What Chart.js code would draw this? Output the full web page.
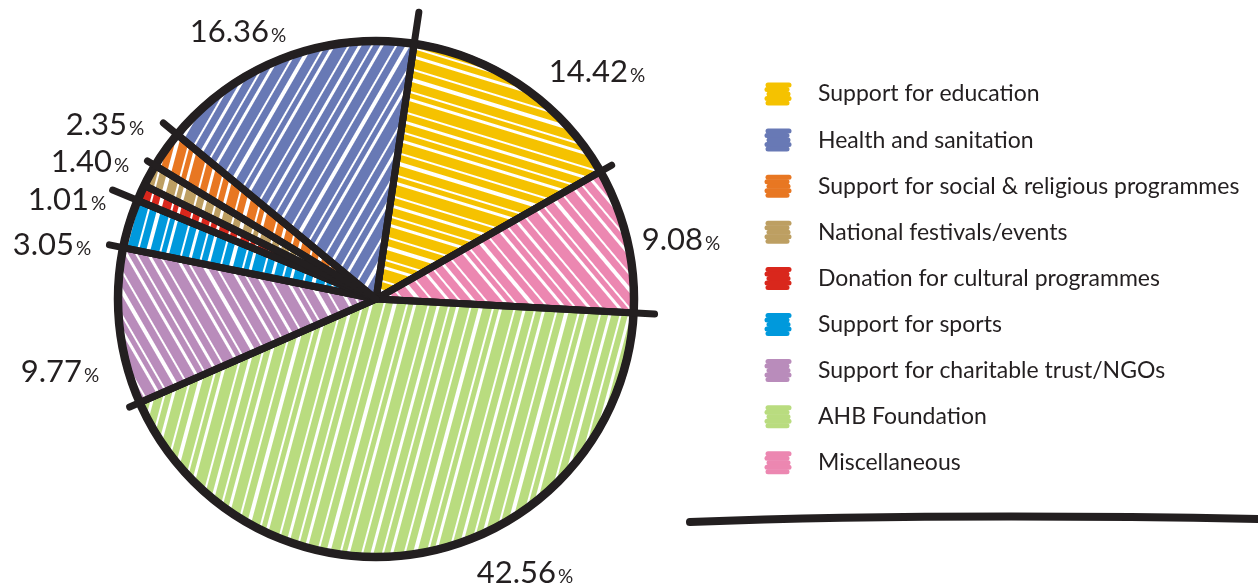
<!DOCTYPE html>
<html>
<head>
<meta charset="utf-8">
<script src="https://cdn.jsdelivr.net/npm/chart.js@4/dist/chart.umd.min.js"></script>
<style>
  html, body { margin: 0; padding: 0; background: #ffffff; }
  #wrap { position: relative; width: 1258px; height: 588px; }
</style>
</head>
<body>
<div id="wrap"><canvas id="pie"></canvas></div>
<script>
// Spending categories, clockwise from just right of twelve o'clock
const categories = [
  'Support for education',
  'Miscellaneous',
  'AHB Foundation',
  'Support for charitable trust/NGOs',
  'Support for sports',
  'Donation for cultural programmes',
  'National festivals/events',
  'Support for social & religious programmes',
  'Health and sanitation'
];
const shares = [14.42, 9.08, 42.56, 9.77, 3.05, 1.01, 1.40, 2.35, 16.36];
const sliceColors = ['#f5c200', '#ec87b1', '#b9dc7f', '#b98cbb', '#0099dc', '#d9271c', '#bd9f62', '#e87722', '#6879b5'];
// Row order of the key (indices into categories)
const legendOrder = [0, 8, 7, 6, 5, 4, 3, 2, 1];

// Crayon stroke direction for each slice (degrees) and how far each spoke runs past the rim
const strokeAngles = [107, 140, 15, 150, 15, 15, 15, 15, 30];
const spokeOverhang = [32, 13, 21, 11, 14, 27, 0, 9, 18];
// Percentage label centres, relative to the pie centre
const labelSpots = [[221, -228], [305, -60], [149, 273], [-316, 72], [-324, -55], [-309, -100], [-286, -138], [-271, -175], [-138, -268]];

const ink = '#231f20';
const pieCenter = { x: 376, y: 299 };
const pieRadius = 258;

// Uneven crayon hatching as a repeating pattern
function crayon(color, angleDeg) {
  const bands = [8, 6, 10, 7, 9, 5, 11, 7];
  const gaps = [2, 3, 2, 4, 2, 3, 2, 3];
  const w = bands.reduce((a, b) => a + b, 0) + gaps.reduce((a, b) => a + b, 0);
  const tile = document.createElement('canvas');
  tile.width = w; tile.height = 8;
  const t = tile.getContext('2d');
  t.fillStyle = '#ffffff';
  t.fillRect(0, 0, w, 8);
  t.fillStyle = color;
  let x = 0;
  bands.forEach((b, i) => { t.fillRect(x, 0, b, 8); x += b + gaps[i]; });
  const p = document.getElementById('pie').getContext('2d').createPattern(tile, 'repeat');
  p.setTransform(new DOMMatrix().rotateSelf(angleDeg));
  return p;
}

const fills = sliceColors.map((c, i) => crayon(c, strokeAngles[i]));

const sketchExtras = {
  id: 'sketchExtras',
  afterDatasetsDraw(chart) {
    const ctx = chart.ctx;
    const arcs = chart.getDatasetMeta(0).data;
    ctx.save();
    ctx.strokeStyle = ink;
    ctx.lineCap = 'round';
    // outer rim
    const a0 = arcs[0].getProps(['x', 'y', 'outerRadius'], true);
    ctx.lineWidth = 8.5;
    ctx.beginPath();
    ctx.arc(a0.x, a0.y, a0.outerRadius, 0, Math.PI * 2);
    ctx.stroke();
    // spokes running past the rim
    ctx.lineWidth = 7;
    arcs.forEach((arc, i) => {
      const p = arc.getProps(['x', 'y', 'startAngle', 'outerRadius'], true);
      const r = p.outerRadius + spokeOverhang[i];
      ctx.beginPath();
      ctx.moveTo(p.x, p.y);
      ctx.lineTo(p.x + Math.cos(p.startAngle) * r, p.y + Math.sin(p.startAngle) * r);
      ctx.stroke();
    });
    // percentage labels
    ctx.fillStyle = ink;
    ctx.textBaseline = 'alphabetic';
    ctx.textAlign = 'left';
    arcs.forEach((arc, i) => {
      const p = arc.getProps(['x', 'y'], true);
      const num = shares[i].toFixed(2);
      ctx.font = '31px Lato';
      const wn = ctx.measureText(num).width;
      ctx.font = '19px Lato';
      const wp = ctx.measureText('%').width;
      const left = p.x + labelSpots[i][0] - (wn + wp + 2) / 2;
      const base = p.y + labelSpots[i][1] + 11;
      ctx.font = '31px Lato';
      ctx.fillText(num, left, base);
      ctx.font = '19px Lato';
      ctx.fillText('%', left + wn + 2, base);
    });
    ctx.restore();
  },
  afterDraw(chart) {
    const ctx = chart.ctx;
    ctx.save();
    // key
    const rowTop = 94, rowStep = 46.1;
    legendOrder.forEach((idx, row) => {
      const cy = rowTop + row * rowStep;
      ctx.strokeStyle = sliceColors[idx];
      ctx.lineCap = 'round';
      ctx.lineWidth = 5;
      const offs = [[1, 0], [0, 2], [2, 1], [0, 0], [1, 2]];
      for (let k = 0; k < 5; k++) {
        const yy = cy - 9 + k * 4.5;
        ctx.beginPath();
        ctx.moveTo(767 + offs[k][0], yy);
        ctx.lineTo(789 - offs[k][1], yy);
        ctx.stroke();
      }
      ctx.fillStyle = ink;
      ctx.font = '23px Lato';
      ctx.textBaseline = 'middle';
      ctx.textAlign = 'left';
      ctx.fillText(categories[idx], 818, cy);
    });
    // rule under the key
    ctx.strokeStyle = ink;
    ctx.lineWidth = 8;
    ctx.lineCap = 'round';
    ctx.beginPath();
    ctx.moveTo(690, 522);
    ctx.quadraticCurveTo(930, 513, 1262, 519);
    ctx.stroke();
    ctx.restore();
  }
};

new Chart(document.getElementById('pie'), {
  type: 'pie',
  data: {
    labels: categories,
    datasets: [{
      data: shares,
      backgroundColor: fills,
      borderColor: ink,
      borderWidth: 7,
      radius: pieRadius,
      rotation: 8.5
    }]
  },
  options: {
    responsive: true,
    maintainAspectRatio: false,
    animation: false,
    events: [],
    layout: {
      padding: {
        left: pieCenter.x - 270,
        right: 1258 - (pieCenter.x + 270),
        top: pieCenter.y - 270,
        bottom: 588 - (pieCenter.y + 270)
      }
    },
    plugins: {
      legend: { display: false },
      tooltip: { enabled: false }
    }
  },
  plugins: [sketchExtras]
});
</script>
</body>
</html>
